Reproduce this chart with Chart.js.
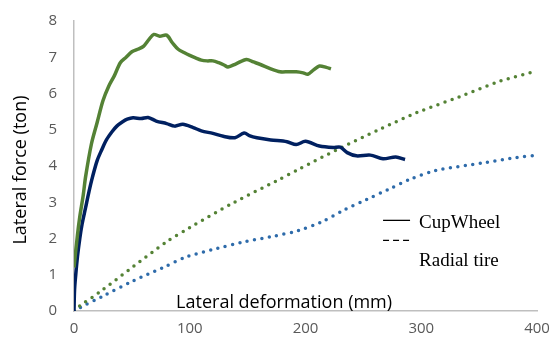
<!DOCTYPE html>
<html>
<head>
<meta charset="utf-8">
<script src="https://cdn.jsdelivr.net/npm/chart.js@4.4.1/dist/chart.umd.min.js"></script>
<style>
  html, body { margin: 0; padding: 0; background: #fff; }
  #wrap { width: 550px; height: 341px; }
</style>
</head>
<body>
<div id="wrap"><canvas id="chart-lateral"></canvas></div>
<script>
// ---------------- data ----------------
// CupWheel, green (solid)
const cupGreenX = [0, 3, 5, 8, 10, 15, 20, 25, 30, 35, 40, 45, 50, 55, 60, 65, 69, 74, 80, 85, 90, 95, 100, 105, 110, 115, 120, 125, 130, 133, 140, 149, 155, 161, 170, 178, 185, 192, 198, 202, 207, 212, 218, 222];
const cupGreenY = [1.2, 2.1, 2.6, 3.2, 3.7, 4.6, 5.2, 5.8, 6.2, 6.5, 6.85, 7.0, 7.15, 7.22, 7.3, 7.5, 7.63, 7.58, 7.61, 7.4, 7.22, 7.13, 7.05, 6.98, 6.92, 6.9, 6.9, 6.85, 6.78, 6.73, 6.82, 6.94, 6.87, 6.8, 6.68, 6.6, 6.6, 6.6, 6.57, 6.53, 6.65, 6.76, 6.72, 6.68];

// CupWheel, navy (solid)
const cupNavyX = [0, 0.5, 1.5, 3, 5, 7, 10, 13, 16, 20, 24, 28, 33, 37, 42, 46, 51, 58, 64, 71, 80, 87, 94, 103, 110, 120, 129, 139, 147, 152, 158, 170, 184, 192, 200, 212, 224, 230, 236, 244, 256, 267, 278, 286];
const cupNavyY = [0, 0.6, 1.0, 1.5, 2.0, 2.4, 2.85, 3.3, 3.7, 4.15, 4.45, 4.72, 4.95, 5.1, 5.22, 5.29, 5.33, 5.31, 5.34, 5.24, 5.17, 5.1, 5.15, 5.06, 4.97, 4.9, 4.82, 4.78, 4.91, 4.83, 4.78, 4.72, 4.67, 4.59, 4.68, 4.55, 4.51, 4.52, 4.37, 4.28, 4.3, 4.2, 4.25, 4.18];

// Radial tire, green (dotted)
const radGreenX = [0, 5, 22.5, 51, 80, 100, 138, 175, 194, 231, 264, 296, 333, 368, 400];
const radGreenY = [0, 0.14, 0.53, 1.22, 1.91, 2.3, 2.99, 3.59, 3.91, 4.51, 5.01, 5.47, 5.91, 6.34, 6.62];

// Radial tire, blue (dotted)
const radBlueX = [0, 5, 25, 51, 77, 97, 123, 146, 172, 194, 214, 233, 253, 272, 290, 312, 354, 382, 400];
const radBlueY = [0, 0.09, 0.41, 0.83, 1.2, 1.49, 1.72, 1.9, 2.06, 2.22, 2.46, 2.78, 3.08, 3.36, 3.63, 3.87, 4.09, 4.23, 4.3];

const legendLabels = ['CupWheel', 'Radial tire'];
const xTitle = 'Lateral deformation (mm)';
const yTitle = 'Lateral force (ton)';

function toPoints(xs, ys) {
    return xs.map((x, i) => ({ x: x, y: ys[i] }));
}

// ---------------- titles + legend drawn on the canvas ----------------
const innerText = {
    id: 'innerText',
    afterDraw(chart) {
        const ctx = chart.ctx;
        const xs = chart.scales.x, ys = chart.scales.y;
        ctx.save();
        ctx.fillStyle = '#000';

        // x axis title sits inside the plot, just above the axis
        ctx.font = '18px "Open Sans"';
        ctx.textAlign = 'center';
        ctx.textBaseline = 'alphabetic';
        ctx.fillText(xTitle, xs.getPixelForValue(181.5), ys.getPixelForValue(0.08));

        // y axis title
        ctx.save();
        ctx.translate(26, 170);
        ctx.rotate(-Math.PI / 2);
        ctx.fillText(yTitle, 0, 0);
        ctx.restore();

        // legend (black line samples)
        const lx = xs.getPixelForValue(267);
        const ly = ys.getPixelForValue(2.5);
        ctx.strokeStyle = '#000';
        ctx.lineWidth = 1.3;
        ctx.beginPath();
        ctx.moveTo(lx, ly);
        ctx.lineTo(lx + 27, ly);
        ctx.stroke();
        ctx.setLineDash([6, 4]);
        ctx.beginPath();
        ctx.moveTo(lx, ly + 20);
        ctx.lineTo(lx + 27, ly + 20);
        ctx.stroke();
        ctx.setLineDash([]);
        ctx.font = '19px "Liberation Serif"';
        ctx.textAlign = 'left';
        ctx.fillText(legendLabels[0], lx + 36, ly + 8);
        ctx.fillText(legendLabels[1], lx + 36, ly + 46);
        ctx.restore();
    }
};

var ctxLateral = document.getElementById('chart-lateral').getContext('2d');
var chart_lateral = new Chart(ctxLateral, {
    type: 'line',
    data: {
        datasets: [{
            label: 'CupWheel green',
            data: toPoints(cupGreenX, cupGreenY),
            borderColor: '#548235',
            borderWidth: 3.5,
            tension: 0.3,
            pointRadius: 0,
            fill: false
        }, {
            label: 'CupWheel navy',
            data: toPoints(cupNavyX, cupNavyY),
            borderColor: '#002060',
            borderWidth: 3.5,
            tension: 0.3,
            pointRadius: 0,
            fill: false
        }, {
            label: 'Radial green',
            data: toPoints(radGreenX, radGreenY),
            borderColor: '#548235',
            borderWidth: 3.5,
            borderDash: [0, 7.5],
            borderCapStyle: 'round',
            tension: 0.3,
            pointRadius: 0,
            fill: false
        }, {
            label: 'Radial blue',
            data: toPoints(radBlueX, radBlueY),
            borderColor: '#2E6BAA',
            borderWidth: 3.5,
            borderDash: [0, 7.5],
            borderCapStyle: 'round',
            tension: 0.3,
            pointRadius: 0,
            fill: false
        }]
    },
    options: {
        responsive: true,
        maintainAspectRatio: false,
        animation: false,
        layout: {
            padding: { top: 21, right: 0, left: 0, bottom: 0 }
        },
        plugins: {
            legend: { display: false },
            tooltip: { enabled: false }
        },
        scales: {
            x: {
                type: 'linear',
                min: 0,
                max: 400,
                grid: { display: false, drawTicks: false },
                border: { color: '#BFBFBF', width: 1.5 },
                ticks: {
                    stepSize: 100,
                    color: '#595959',
                    padding: 9,
                    maxRotation: 0,
                    font: { family: 'Open Sans', size: 15 }
                },
                afterFit: function (scale) {
                    scale.height = 30;
                    scale.paddingLeft = 0;
                    scale.paddingRight = 13;
                }
            },
            y: {
                min: 0,
                max: 8,
                grid: { display: false, drawTicks: false },
                border: { color: '#BFBFBF', width: 1.5 },
                ticks: {
                    stepSize: 1,
                    color: '#595959',
                    padding: 17,
                    font: { family: 'Open Sans', size: 15 }
                },
                afterFit: function (scale) {
                    scale.width = 74;
                    scale.paddingTop = 0;
                    scale.paddingBottom = 0;
                }
            }
        }
    },
    plugins: [innerText]
});
</script>
</body>
</html>
